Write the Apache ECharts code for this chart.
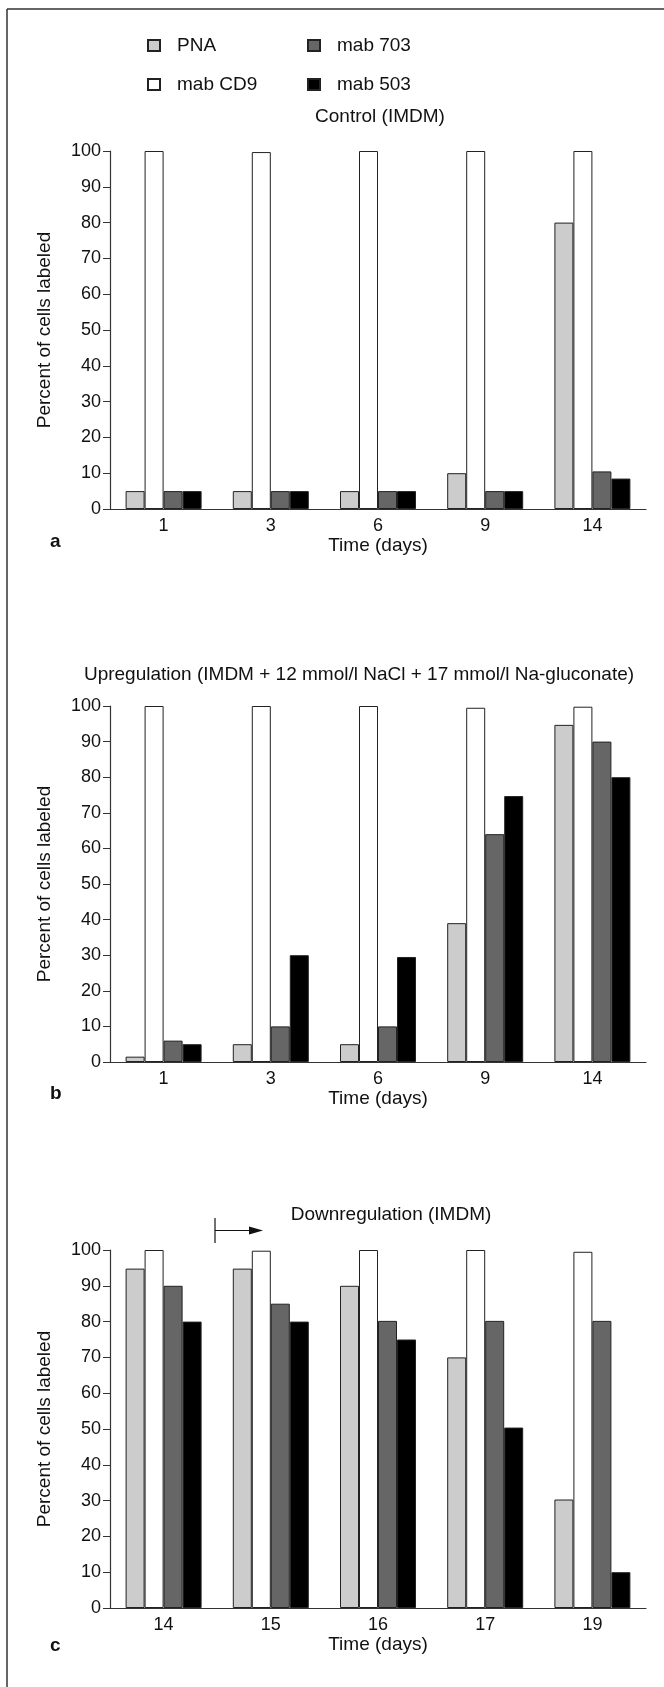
<!DOCTYPE html>
<html>
<head>
<meta charset="utf-8">
<script src="https://cdn.jsdelivr.net/npm/echarts@6/dist/echarts.min.js"></script>
<style>
html,body{margin:0;padding:0;background:#fff;}
#chart{width:664px;height:1687px;}
</style>
</head>
<body>
<div id="chart"></div>
<script>
// ---- data ----
const seriesNames = ['PNA', 'mab CD9', 'mab 703', 'mab 503'];
const daysA = ['1', '3', '6', '9', '14'];
const daysB = ['1', '3', '6', '9', '14'];
const daysC = ['14', '15', '16', '17', '19'];
const yTicks = [0, 10, 20, 30, 40, 50, 60, 70, 80, 90, 100];

const aPNA = [5, 5, 5, 10, 80];
const aCD9 = [100, 99.7, 100, 100, 100];
const a703 = [5, 5, 5, 5, 10.5];
const a503 = [5, 5, 5, 5, 8.5];

const bPNA = [1.5, 5, 5, 39, 94.7];
const bCD9 = [100, 100, 100, 99.5, 99.8];
const b703 = [6, 10, 10, 64, 90];
const b503 = [5, 30, 29.5, 74.7, 80];

const cPNA = [94.8, 94.8, 90, 70, 30.3];
const cCD9 = [100, 99.8, 100, 100, 99.5];
const c703 = [90, 85, 80.2, 80.2, 80.2];
const c503 = [80, 80, 75, 50.4, 10];

const titles = ['Control (IMDM)', 'Upregulation (IMDM + 12 mmol/l NaCl + 17 mmol/l Na-gluconate)', 'Downregulation (IMDM)'];
const panelLetters = ['a', 'b', 'c'];

// ---- styling ----
const FONT = '"Liberation Sans", Arial, Helvetica, sans-serif';
const colors = ['#cccccc', '#ffffff', '#666666', '#000000'];
const BORDER = '#222222';

const chart = echarts.init(document.getElementById('chart'), null, {renderer: 'canvas'});

const grids = [
  {left: 110, width: 536, top: 151, height: 358},
  {left: 110, width: 536, top: 706, height: 356},
  {left: 110, width: 536, top: 1250, height: 358}
];
const cats = [daysA, daysB, daysC];
const data = [[aPNA, aCD9, a703, a503], [bPNA, bCD9, b703, b503], [cPNA, cCD9, c703, c503]];

const xAxes = cats.map((c, i) => ({
  type: 'category', gridIndex: i, data: c,
  name: 'Time (days)', nameLocation: 'middle', nameGap: 19,
  nameTextStyle: {fontFamily: FONT, fontSize: 19, color: '#111'},
  axisLine: {lineStyle: {color: '#333', width: 1.2}},
  axisTick: {show: false},
  axisLabel: {fontFamily: FONT, fontSize: 18, color: '#111', margin: 8}
}));
const yAxes = cats.map((c, i) => ({
  type: 'value', gridIndex: i, min: 0, max: 100, interval: 10,
  name: 'Percent of cells labeled', nameLocation: 'middle', nameGap: 56, nameRotate: 90,
  nameTextStyle: {fontFamily: FONT, fontSize: 19, color: '#111'},
  axisLine: {show: true, lineStyle: {color: '#333', width: 1.2}},
  axisTick: {show: true, length: 7, lineStyle: {color: '#333'}},
  splitLine: {show: false},
  axisLabel: {fontFamily: FONT, fontSize: 18, color: '#111', margin: 9,
    formatter: v => yTicks.includes(v) ? String(v) : ''}
}));

const series = [];
data.forEach((grp, gi) => {
  grp.forEach((vals, si) => {
    series.push({
      type: 'bar', name: seriesNames[si], xAxisIndex: gi, yAxisIndex: gi,
      data: vals, barWidth: 19, barGap: '0%',
      itemStyle: {color: colors[si], borderColor: BORDER, borderWidth: 1},
      emphasis: {disabled: true}
    });
  });
});

const titlePos = [[380, 117], [359, 675], [391, 1215]];
const letterPos = [[50, 542], [50, 1094], [50, 1646]];
const graphics = [];
titles.forEach((t, i) => graphics.push({
  type: 'text', x: titlePos[i][0], y: titlePos[i][1],
  style: {text: t, font: '19px ' + FONT, fill: '#111', textAlign: 'center', textVerticalAlign: 'middle'}
}));
panelLetters.forEach((t, i) => graphics.push({
  type: 'text', x: letterPos[i][0], y: letterPos[i][1],
  style: {text: t, font: 'bold 19px ' + FONT, fill: '#111', textAlign: 'left', textVerticalAlign: 'middle'}
}));
// frame
graphics.push({type: 'line', shape: {x1: 7, y1: 9, x2: 670, y2: 9}, style: {stroke: '#333', lineWidth: 1.5}});
graphics.push({type: 'line', shape: {x1: 7, y1: 9, x2: 7, y2: 1700}, style: {stroke: '#333', lineWidth: 1.5}});
// arrow annotation
graphics.push({type: 'line', shape: {x1: 215, y1: 1218, x2: 215, y2: 1243}, style: {stroke: '#111', lineWidth: 1.2}});
graphics.push({type: 'line', shape: {x1: 215, y1: 1230.5, x2: 252, y2: 1230.5}, style: {stroke: '#111', lineWidth: 1.2}});
graphics.push({type: 'polygon', shape: {points: [[249, 1226.5], [263, 1230.5], [249, 1234.5]]}, style: {fill: '#111'}});

const legendBase = {
  orient: 'vertical', itemWidth: 12, itemHeight: 11, itemGap: 20, padding: 0,
  icon: 'rect', selectedMode: false,
  textStyle: {fontFamily: FONT, fontSize: 19, lineHeight: 14, color: '#111', padding: [0, 0, 0, 12]}
};

chart.setOption({
  animation: false,
  backgroundColor: '#fff',
  grid: grids,
  xAxis: xAxes,
  yAxis: yAxes,
  legend: [
    Object.assign({}, legendBase, {left: 147, top: 36, data: ['PNA', 'mab CD9']}),
    Object.assign({}, legendBase, {left: 307, top: 36, data: ['mab 703', 'mab 503']})
  ],
  graphic: graphics,
  series: series
});
</script>
</body>
</html>
